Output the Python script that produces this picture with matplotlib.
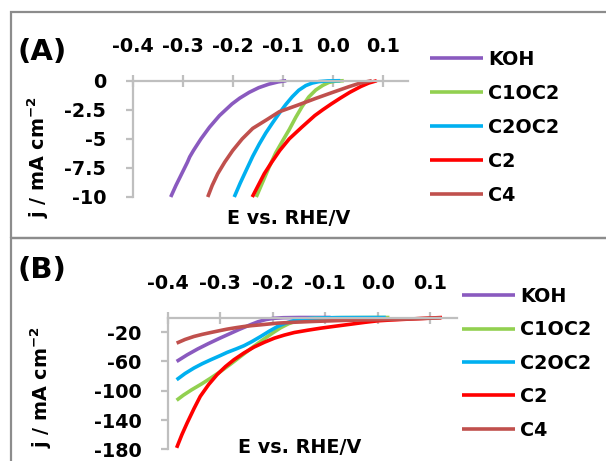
import numpy as np
import matplotlib
matplotlib.use('Agg')
import matplotlib.pyplot as plt
from matplotlib.patches import Rectangle

plt.rcParams['font.family'] = ['DejaVu Sans']
plt.rcParams['font.weight'] = 'bold'
plt.rcParams['axes.unicode_minus'] = False
plt.rcParams['mathtext.default'] = 'regular'

W, H = 606, 461

# series
names = ['KOH', 'C1OC2', 'C2OC2', 'C2', 'C4']
colors = ['#8A5ABF', '#92D050', '#00B0F0', '#FF0000', '#C0504D']

# panel A (zoom near onset)
E_koh_a = [-0.324, -0.3135, -0.302, -0.2905, -0.286, -0.2785, -0.2635, -0.2465, -0.2265, -0.2015,
           -0.186, -0.167, -0.148, -0.128, -0.109, -0.093]
j_koh_a = [-10, -9, -8, -7, -6.55, -6, -5, -4, -3, -2,
           -1.5, -1, -0.6, -0.3, -0.1, 0]
E_c1oc2_a = [-0.153, -0.14, -0.127, -0.114, -0.1, -0.087, -0.074, -0.061, -0.048, -0.034,
             -0.02, -0.008, 0.005, 0.022]
j_c1oc2_a = [-10, -8.7, -7.4, -6.2, -5.15, -4.2, -3.15, -2.2, -1.4, -0.8,
             -0.4, -0.15, -0.04, 0]
E_c2oc2_a = [-0.197, -0.185, -0.172, -0.16, -0.147, -0.134, -0.12, -0.107, -0.094, -0.081,
             -0.068, -0.054, -0.041, -0.028, -0.01, 0.015]
j_c2oc2_a = [-10, -8.8, -7.6, -6.5, -5.45, -4.5, -3.6, -2.8, -2.05, -1.38,
             -0.82, -0.42, -0.2, -0.08, -0.02, 0]
E_c2_a = [-0.161, -0.149, -0.137, -0.122, -0.106, -0.087, -0.062, -0.036, -0.02, -0.003,
          0.015, 0.034, 0.056, 0.072, 0.088]
j_c2_a = [-10, -9, -8, -7, -6, -5, -4, -3, -2.5, -2,
          -1.5, -1, -0.5, -0.2, 0]
E_c4_a = [-0.25, -0.241, -0.23, -0.216, -0.2, -0.181, -0.16, -0.13, -0.107, -0.07,
          -0.034, 0.0, 0.032, 0.055, 0.078]
j_c4_a = [-10, -9, -8, -7, -6, -5, -4.1, -3.3, -2.67, -2.1,
          -1.52, -1, -0.52, -0.2, 0]

# panel B (full range)
E_koh_b = [-0.383, -0.363, -0.343, -0.323, -0.303, -0.283, -0.263, -0.243, -0.228, -0.213,
           -0.198, -0.18, -0.15, -0.09]
j_koh_b = [-60, -51, -43, -35.8, -29, -22.5, -16, -10, -5.8, -2.8,
           -1.1, -0.3, 0, 0]
E_c1oc2_b = [-0.383, -0.37, -0.355, -0.335, -0.318, -0.3, -0.28, -0.26, -0.24, -0.22,
             -0.2, -0.185, -0.17, -0.155, -0.14, -0.12, -0.08, 0.022]
j_c1oc2_b = [-113, -106, -99, -90.5, -82.7, -74, -63.5, -52.5, -41.5, -31,
             -21, -14, -8.5, -4.6, -2.3, -1.0, -0.3, 0]
E_c2oc2_b = [-0.383, -0.367, -0.35, -0.334, -0.318, -0.3, -0.287, -0.27, -0.255, -0.24,
             -0.223, -0.207, -0.191, -0.175, -0.159, -0.143, -0.127, -0.1, -0.07, 0.015]
j_c2oc2_b = [-85, -76.5, -69, -63, -57.7, -52, -47.7, -43, -38.6, -33,
             -25.9, -18.8, -12.3, -7.5, -4.1, -2.1, -1, -0.4, -0.15, 0]
E_c2_b = [-0.383, -0.373, -0.363, -0.35, -0.338, -0.322, -0.306, -0.29, -0.274, -0.255,
          -0.236, -0.216, -0.197, -0.178, -0.159, -0.133, -0.108, -0.08, -0.05, -0.025,
          0.0, 0.025, 0.05, 0.085, 0.122]
j_c2_b = [-178, -160, -144, -124.5, -107.7, -91.5, -78, -67, -57.7, -48.5,
          -40.5, -33.8, -28.2, -24, -20.5, -17.3, -14.5, -11.8, -9, -6.6,
          -4.5, -3.4, -2.5, -1.3, 0]
E_c4_b = [-0.383, -0.367, -0.35, -0.334, -0.318, -0.3, -0.287, -0.27, -0.255, -0.24,
          -0.223, -0.191, -0.16, -0.127, -0.07, -0.035, 0.004, 0.06, 0.12]
j_c4_b = [-35, -30, -25.9, -23, -20.5, -17.8, -15.9, -13.9, -12.3, -11.1,
          -10, -7.7, -6.5, -5.5, -4.1, -3.5, -3, -2, -0.5]

x_ticks = [-0.4, -0.3, -0.2, -0.1, 0.0, 0.1]
y_ticks_a = [0, -2.5, -5, -7.5, -10]
y_labels_a = ['0', '-2.5', '-5', '-7.5', '-10']
y_ticks_b = [-20, -60, -100, -140, -180]

series_a = [(E_koh_a, j_koh_a), (E_c1oc2_a, j_c1oc2_a), (E_c2oc2_a, j_c2oc2_a),
            (E_c2_a, j_c2_a), (E_c4_a, j_c4_a)]
series_b = [(E_koh_b, j_koh_b), (E_c1oc2_b, j_c1oc2_b), (E_c2oc2_b, j_c2oc2_b),
            (E_c2_b, j_c2_b), (E_c4_b, j_c4_b)]

AXIS_GRAY = '#BFBFBF'
FRAME_GRAY = '#8C8C8C'
FS = 13.8


def px_axes(fig, x0, x1, y0, y1):
    # pixel box (top-left origin) -> figure fraction
    return fig.add_axes([x0 / W, 1 - y1 / H, (x1 - x0) / W, (y1 - y0) / H])


def style_axes(ax, ylim, yticks, ylabels):
    ax.set_xlim(-0.4, 0.15)
    ax.set_ylim(*ylim)
    for s in ['bottom', 'right']:
        ax.spines[s].set_visible(False)
    for s in ['top', 'left']:
        ax.spines[s].set_color(AXIS_GRAY)
        ax.spines[s].set_linewidth(1.6)
    ax.xaxis.tick_top()
    ax.set_xticks(x_ticks)
    ax.set_xticklabels(['{:.1f}'.format(v) for v in x_ticks])
    ax.set_yticks(yticks)
    ax.set_yticklabels(ylabels)
    ax.tick_params(axis='x', direction='inout', length=8, width=1.6, color=AXIS_GRAY,
                   labelsize=FS, pad=14)
    ax.tick_params(axis='y', direction='out', length=5, width=1.6, color=AXIS_GRAY,
                   labelsize=FS, pad=14)
    ax.patch.set_visible(False)


def add_legend(ax, x, y, spacing):
    ax.legend(loc='upper left', bbox_to_anchor=(x / W, 1 - y / H), bbox_transform=fig.transFigure,
              frameon=False, fontsize=FS, handlelength=2.75, handletextpad=0.3,
              labelspacing=spacing, borderpad=0, borderaxespad=0)


fig = plt.figure(figsize=(W / 100, H / 100), dpi=100)

# panel frames
fig.patches.append(Rectangle((11 / W, 1 - 238 / H), 1.0, 225.5 / H, transform=fig.transFigure,
                             fill=False, edgecolor=FRAME_GRAY, linewidth=1.6))
fig.patches.append(Rectangle((11 / W, -0.1), 1.0, 0.1 + 1 - 238 / H, transform=fig.transFigure,
                             fill=False, edgecolor=FRAME_GRAY, linewidth=1.6))

# panel A
axA = px_axes(fig, 132.7, 407.8, 80.7, 197)
for (E, j), c, n in zip(series_a, colors, names):
    axA.plot(E, j, color=c, lw=2.6, label=n, clip_on=False, solid_capstyle='butt')
style_axes(axA, (-10, 0), y_ticks_a, y_labels_a)
add_legend(axA, 430, 50, 0.78)

# panel B
axB = px_axes(fig, 167.7, 456.7, 317.5, 449.3)
for (E, j), c, n in zip(series_b, colors, names):
    axB.plot(E, j, color=c, lw=2.6, label=n, clip_on=False, solid_capstyle='butt')
style_axes(axB, (-180, 0), y_ticks_b, [str(v) for v in y_ticks_b])
add_legend(axB, 462, 287, 0.75)

# titles / labels
ylab = 'j / mA cm$^{-2}$'
fig.text(18 / W, 1 - 52 / H, '(A)', fontsize=21, ha='left', va='center')
fig.text(18 / W, 1 - 270 / H, '(B)', fontsize=21, ha='left', va='center')
fig.text(38 / W, 1 - 157.5 / H, ylab, fontsize=FS, rotation=90, ha='center', va='center')
fig.text(41 / W, 1 - 387 / H, ylab, fontsize=FS, rotation=90, ha='center', va='center')
fig.text(289 / W, 1 - 218 / H, 'E vs. RHE/V', fontsize=FS, ha='center', va='center')
fig.text(300 / W, 1 - 447 / H, 'E vs. RHE/V', fontsize=FS, ha='center', va='center')

fig.savefig('out.png', dpi=100)
